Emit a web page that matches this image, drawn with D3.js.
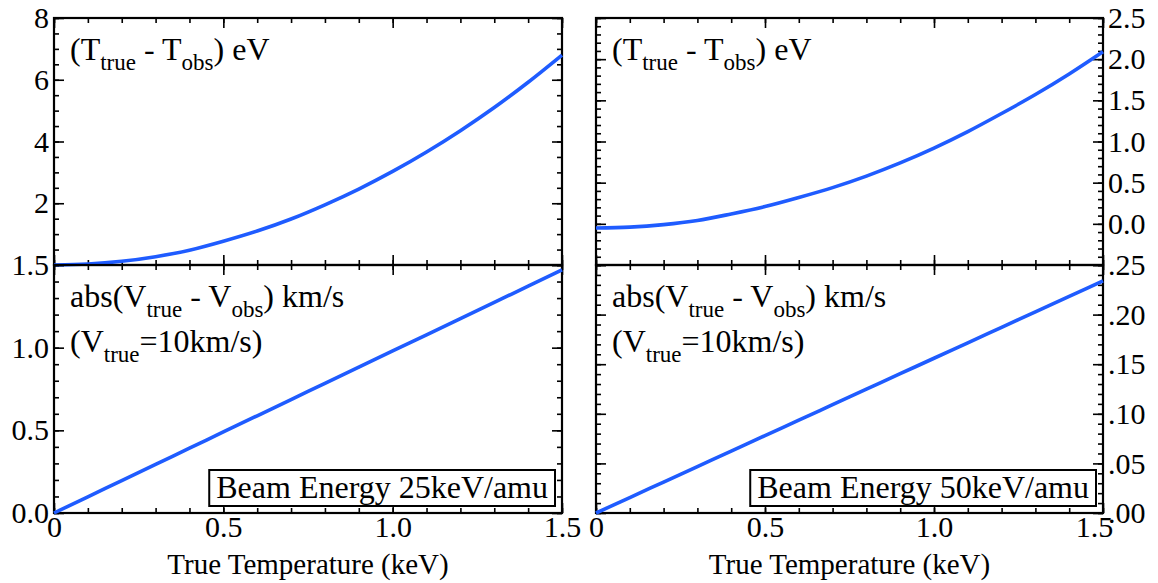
<!DOCTYPE html>
<html>
<head>
<meta charset="utf-8">
<script src="https://cdn.jsdelivr.net/npm/d3@7"></script>
<style>
  html, body { margin: 0; padding: 0; background: #fff; }
  svg { display: block; }
</style>
</head>
<body>
<svg id="chart" width="1158" height="583"></svg>
<script>
// True temperature grid (keV)
const temps = [0, 0.1, 0.2, 0.3, 0.4, 0.5, 0.6, 0.7, 0.8, 0.9, 1.0, 1.1, 1.2, 1.3, 1.4, 1.5];

// Temperature error (eV), 25 and 50 keV/amu beams
const dT25 = [0.0, 0.03, 0.12, 0.27, 0.48, 0.77, 1.10, 1.49, 1.95, 2.46, 3.03, 3.66, 4.35, 5.10, 5.92, 6.80];
const dT50 = [-0.05, -0.04, -0.01, 0.04, 0.12, 0.21, 0.32, 0.44, 0.58, 0.74, 0.92, 1.12, 1.34, 1.57, 1.82, 2.09];

// Velocity error (km/s) for V_true = 10 km/s
const dV25 = [0.0, 0.098, 0.196, 0.294, 0.392, 0.49, 0.588, 0.686, 0.784, 0.882, 0.98, 1.078, 1.176, 1.274, 1.372, 1.47];
const dV50 = [0.0, 0.0156, 0.0312, 0.0468, 0.0624, 0.078, 0.0936, 0.1092, 0.1248, 0.1404, 0.156, 0.1716, 0.1872, 0.2028, 0.2184, 0.234];

// Axis ticks
const xMajor = [0, 0.5, 1.0, 1.5];
const xMajorLabels = ["0", "0.5", "1.0", "1.5"];
const xMinorStep = 0.1;

const yT25Major = [0, 2, 4, 6, 8];
const yT25Labels = ["", "2", "4", "6", "8"];
const yT50Major = [-0.5, 0.0, 0.5, 1.0, 1.5, 2.0, 2.5];
const yT50Labels = ["", "0.0", "0.5", "1.0", "1.5", "2.0", "2.5"];
const yV25Major = [0.0, 0.5, 1.0, 1.5];
const yV25Labels = ["0.0", "0.5", "1.0", "1.5"];
const yV50Major = [0.0, 0.05, 0.10, 0.15, 0.20, 0.25];
const yV50Labels = [".00", ".05", ".10", ".15", ".20", ".25"];

const beamLabels = ["Beam Energy 25keV/amu", "Beam Energy 50keV/amu"];
const xTitle = "True Temperature (keV)";

const svg = d3.select("#chart");
const SERIF = "'Liberation Serif', 'Nimbus Roman', FreeSerif, 'Noto Serif', 'DejaVu Serif', 'Times New Roman', Times, serif";
const TICK = 30, FONT = 32, TITLE = 29, SUB = 23;
const LINE = "#1f5cff";

const cols = [{x0: 54, x1: 562}, {x0: 596, x1: 1103}];
const rows = [{y0: 18, y1: 265}, {y0: 265, y1: 513}];

function range(a, b, step) {
  const out = [];
  const n = Math.round((b - a) / step);
  for (let i = 0; i <= n; i++) out.push(+(a + i * step).toFixed(6));
  return out;
}

const panels = [
  {c: 0, r: 0, values: dT25, dom: [0, 8], major: yT25Major, labels: yT25Labels, minor: 0.5, side: "left"},
  {c: 1, r: 0, values: dT50, dom: [-0.5, 2.5], major: yT50Major, labels: yT50Labels, minor: 0.1, side: "right"},
  {c: 0, r: 1, values: dV25, dom: [0, 1.5], major: yV25Major, labels: yV25Labels, minor: 0.1, side: "left"},
  {c: 1, r: 1, values: dV50, dom: [0, 0.25], major: yV50Major, labels: yV50Labels, minor: 0.01, side: "right"}
];

function styleAxis(a) {
  a.attr("font-family", null).attr("font-size", null);
  a.select(".domain").remove();
  a.selectAll("line").attr("stroke", "#000").attr("stroke-width", 1.6);
  a.selectAll("text")
    .style("font-family", SERIF).style("font-size", TICK + "px")
    .attr("fill", "#000");
  return a;
}

function serifText(sel, size) {
  return sel.style("font-family", SERIF).style("font-size", size + "px").attr("fill", "#000");
}

panels.forEach(p => {
  const col = cols[p.c], row = rows[p.r];
  const x = d3.scaleLinear().domain([0, 1.5]).range([col.x0, col.x1]);
  const y = d3.scaleLinear().domain(p.dom).range([row.y1, row.y0]);
  const g = svg.append("g");

  const xMinor = range(0, 1.5, xMinorStep);
  const yMinor = range(p.dom[0], p.dom[1], p.minor);

  // x ticks, pointing inward on bottom and top edges
  const addX = (ypos, dir, vals, len, labels) => {
    const ax = (dir === "up" ? d3.axisBottom(x) : d3.axisTop(x))
      .tickValues(vals).tickSize(-len).tickPadding(3)
      .tickFormat((d, i) => labels ? labels[i] : "");
    return styleAxis(g.append("g").attr("transform", `translate(0,${ypos})`).call(ax));
  };
  addX(row.y1, "up", xMinor, 5, null);
  addX(row.y0, "down", xMinor, 5, null);
  const xa = addX(row.y1, "up", xMajor, 10, p.r === 1 ? xMajorLabels : null);
  // last label of the right column sits just left of its tick, clear of the y labels
  if (p.c === 1) xa.selectAll("text").filter(d => d === 1.5).attr("dx", -9);
  addX(row.y0, "down", xMajor, 10, null);

  // y ticks on both vertical edges
  const addY = (xpos, side, vals, len, labels) => {
    const ax = (side === "left" ? d3.axisLeft(y) : d3.axisRight(y))
      .tickValues(vals).tickSize(-len).tickPadding(5)
      .tickFormat((d, i) => labels ? labels[i] : "");
    return styleAxis(g.append("g").attr("transform", `translate(${xpos},0)`).call(ax));
  };
  const labLeft = p.side === "left";
  addY(col.x0, "left", yMinor, 5, null);
  addY(col.x1, "right", yMinor, 5, null);
  addY(col.x0, "left", p.major, 10, labLeft ? p.labels : null);
  addY(col.x1, "right", p.major, 10, labLeft ? null : p.labels);

  // frame
  g.append("rect")
    .attr("x", col.x0).attr("y", row.y0)
    .attr("width", col.x1 - col.x0).attr("height", row.y1 - row.y0)
    .attr("fill", "none").attr("stroke", "#000").attr("stroke-width", 2.2);

  // data curve
  const line = d3.line().x((d, i) => x(temps[i])).y(d => y(d)).curve(d3.curveMonotoneX);
  g.append("path").datum(p.values)
    .attr("d", line)
    .attr("fill", "none").attr("stroke", LINE).attr("stroke-width", 3.6)
    .attr("stroke-linejoin", "round");

  // annotations
  const tx = col.x0 + 16;
  const sub = (t, s) => serifText(t.append("tspan"), SUB).attr("dy", 10).text(s);
  const main = (t, s) => serifText(t.append("tspan"), FONT).attr("dy", -10).text(s);
  if (p.r === 0) {
    const t = serifText(g.append("text"), FONT).attr("x", tx).attr("y", row.y0 + 42);
    serifText(t.append("tspan"), FONT).text("(T");
    sub(t, "true"); main(t, " - T"); sub(t, "obs"); main(t, ") eV");
  } else {
    const t = serifText(g.append("text"), FONT).attr("x", tx).attr("y", row.y0 + 42);
    serifText(t.append("tspan"), FONT).text("abs(V");
    sub(t, "true"); main(t, " - V"); sub(t, "obs"); main(t, ") km/s");
    const t2 = serifText(g.append("text"), FONT).attr("x", tx).attr("y", row.y0 + 87);
    serifText(t2.append("tspan"), FONT).text("(V");
    sub(t2, "true"); main(t2, "=10km/s)");

    // beam energy box
    const bt = serifText(g.append("text"), FONT)
      .attr("x", col.x1 - 14).attr("y", row.y1 - 15)
      .attr("text-anchor", "end")
      .text(beamLabels[p.c]);
    const bb = bt.node().getBBox();
    g.append("rect")
      .attr("x", bb.x - 7).attr("y", row.y1 - 43)
      .attr("width", bb.width + 14).attr("height", 36)
      .attr("fill", "#fff").attr("stroke", "#000").attr("stroke-width", 2);
    bt.raise();

    // x title
    serifText(g.append("text"), TITLE)
      .attr("x", (col.x0 + col.x1) / 2).attr("y", 574)
      .attr("text-anchor", "middle")
      .text(xTitle);
  }
});
</script>
</body>
</html>
